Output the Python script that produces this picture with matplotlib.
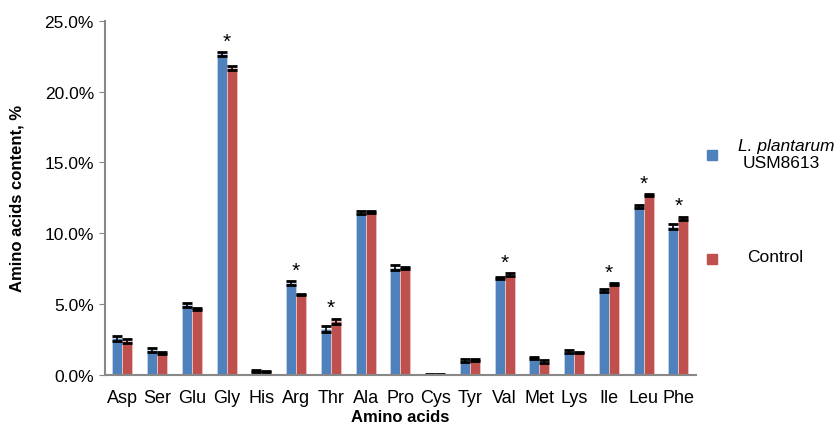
import numpy as np
import matplotlib
matplotlib.use('Agg')
import matplotlib.pyplot as plt

plt.rcParams['font.family'] = ['Liberation Sans', 'DejaVu Sans']

# 数据（百分比）
amino = ['Asp', 'Ser', 'Glu', 'Gly', 'His', 'Arg', 'Thr', 'Ala', 'Pro',
         'Cys', 'Tyr', 'Val', 'Met', 'Lys', 'Ile', 'Leu', 'Phe']
lp_vals = [2.58, 1.76, 4.95, 22.63, 0.28, 6.48, 3.24, 11.46, 7.58,
           0.05, 1.00, 6.83, 1.20, 1.64, 5.99, 11.90, 10.47]
lp_err = [0.15, 0.12, 0.15, 0.15, 0.08, 0.12, 0.20, 0.12, 0.20,
          0.02, 0.10, 0.08, 0.05, 0.12, 0.10, 0.12, 0.20]
ctrl_vals = [2.39, 1.55, 4.65, 21.65, 0.25, 5.68, 3.80, 11.52, 7.55,
             0.05, 1.05, 7.09, 0.94, 1.57, 6.41, 12.70, 11.06]
ctrl_err = [0.12, 0.05, 0.05, 0.15, 0.05, 0.05, 0.18, 0.08, 0.10,
            0.02, 0.08, 0.12, 0.12, 0.05, 0.05, 0.08, 0.12]
signif = ['Gly', 'Arg', 'Thr', 'Val', 'Ile', 'Leu', 'Phe']

blue = '#4f81bd'
red = '#c0504d'

fig = plt.figure(figsize=(8.38, 4.31), dpi=100)
ax = fig.add_axes([0.1253, 0.1276, 0.705, 0.822])

x = np.arange(len(amino))
w = 0.29
err_kw = dict(ecolor='black', elinewidth=1.2, capsize=3.5, capthick=2)
ax.bar(x - w / 2, np.array(lp_vals) / 100, w, yerr=np.array(lp_err) / 100,
       color=blue, edgecolor='#c6d4e8', linewidth=0.6, error_kw=err_kw)
ax.bar(x + w / 2, np.array(ctrl_vals) / 100, w, yerr=np.array(ctrl_err) / 100,
       color=red, edgecolor='#ecc6c5', linewidth=0.6, error_kw=err_kw)

# 显著性星号
for i, name in enumerate(amino):
    if name in signif:
        top = max(lp_vals[i] + lp_err[i], ctrl_vals[i] + ctrl_err[i]) / 100
        ax.text(i, top + 0.001, '*', ha='center', va='bottom', fontsize=15)

ax.set_xlim(-0.5, len(amino) - 0.5)
ax.set_ylim(0, 0.25)
ax.set_yticks(np.arange(0, 0.251, 0.05))
ax.set_yticklabels([f'{v * 100:.1f}%' for v in np.arange(0, 0.251, 0.05)], fontsize=12.5)
ax.set_xticks(x)
ax.set_xticklabels(amino, fontsize=13)
ax.tick_params(axis='x', length=0, pad=10)
ax.tick_params(axis='y', length=4, color='#888888', direction='out', pad=4)

for s in ['top', 'right']:
    ax.spines[s].set_visible(False)
for s in ['left', 'bottom']:
    ax.spines[s].set_color('#888888')
    ax.spines[s].set_linewidth(1.5)

ax.set_xlabel('Amino acids', fontsize=12, fontweight='bold', labelpad=2)
ax.set_ylabel('Amino acids content, %', fontsize=12, fontweight='bold', labelpad=14)

# 图例（手动绘制）
fig.patches.append(plt.Rectangle((707 / 838, 1 - 161 / 431), 10 / 838, 10 / 431,
                                 color=blue, transform=fig.transFigure))
fig.patches.append(plt.Rectangle((707 / 838, 1 - 265 / 431), 10 / 838, 10 / 431,
                                 color=red, transform=fig.transFigure))
fig.text(786 / 838, 1 - 147 / 431, 'L. plantarum', style='italic', fontsize=12.5,
         ha='center', va='center')
fig.text(781 / 838, 1 - 164 / 431, 'USM8613', fontsize=12.5, ha='center', va='center')
fig.text(775 / 838, 1 - 257 / 431, 'Control', fontsize=12.5, ha='center', va='center')

fig.savefig('out.png', dpi=100)
